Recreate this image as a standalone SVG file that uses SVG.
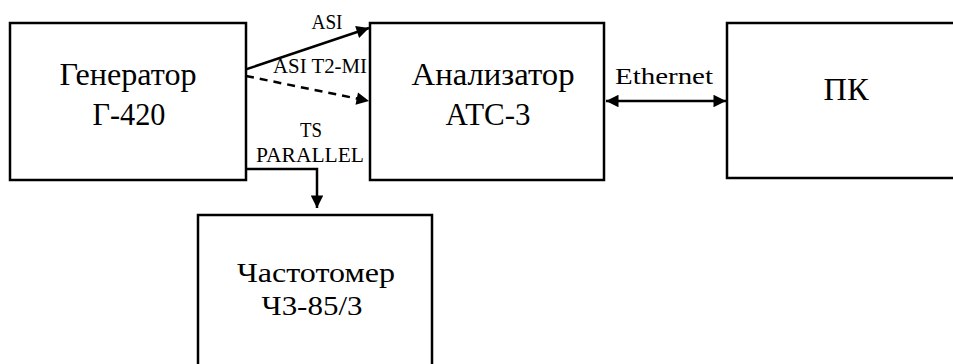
<svg xmlns="http://www.w3.org/2000/svg" width="953" height="364" viewBox="0 0 953 364">
<defs>
<style>
.box{fill:#fff;stroke:#000;stroke-width:2.5}
.t{font-family:"Times New Roman","Liberation Serif","DejaVu Serif",serif;fill:#000;text-anchor:middle}
.big{font-size:31px}
.mid{font-size:28px}
.sm{font-size:21px}
.ln{stroke:#000;stroke-width:2.5;fill:none}
</style>
<marker id="ah" viewBox="0 0 10 10" refX="10" refY="5" markerWidth="6" markerHeight="5" markerUnits="strokeWidth" orient="auto-start-reverse">
<path d="M0,0 L10,5 L0,10 z" fill="#000"/>
</marker>
</defs>
<rect width="953" height="364" fill="#fff"/>
<g id="connectors">
<line class="ln" x1="238" y1="72" x2="369" y2="28" marker-end="url(#ah)"/>
<line class="ln" x1="246" y1="76" x2="369" y2="101" stroke-dasharray="8,6" marker-end="url(#ah)"/>
<polyline class="ln" points="246,169 317,169 317,208" marker-end="url(#ah)"/>
<line class="ln" x1="606" y1="101" x2="726" y2="101" marker-start="url(#ah)" marker-end="url(#ah)"/>
<text class="t sm" x="327" y="29" textLength="31" lengthAdjust="spacingAndGlyphs">ASI</text>
<text class="t sm" x="320" y="73" textLength="94" lengthAdjust="spacingAndGlyphs">ASI T2-MI</text>
<text class="t sm" x="311" y="137" textLength="22" lengthAdjust="spacingAndGlyphs">TS</text>
<text class="t sm" x="310" y="162" textLength="108" lengthAdjust="spacingAndGlyphs">PARALLEL</text>
<text class="t" x="664" y="84" font-size="24" textLength="98" lengthAdjust="spacingAndGlyphs">Ethernet</text>
</g>
<g id="generator">
<rect class="box" x="10" y="23" width="236" height="157"/>
<text class="t big" x="128" y="85" textLength="137" lengthAdjust="spacingAndGlyphs">Генератор</text>
<text class="t big" x="129" y="125" textLength="73" lengthAdjust="spacingAndGlyphs">Г-420</text>
</g>
<g id="analyzer">
<rect class="box" x="370" y="23" width="234" height="157"/>
<text class="t big" x="493" y="85" textLength="163" lengthAdjust="spacingAndGlyphs">Анализатор</text>
<text class="t big" x="488" y="125" textLength="85" lengthAdjust="spacingAndGlyphs">АТС-3</text>
</g>
<g id="pc">
<rect class="box" x="727" y="23" width="240" height="155"/>
<text class="t big" x="846" y="100" textLength="45" lengthAdjust="spacingAndGlyphs">ПК</text>
</g>
<g id="counter">
<rect class="box" x="198" y="215" width="234" height="170"/>
<text class="t mid" x="316" y="282" textLength="158" lengthAdjust="spacingAndGlyphs">Частотомер</text>
<text class="t mid" x="312" y="315" textLength="101" lengthAdjust="spacingAndGlyphs">Ч3-85/3</text>
</g>
</svg>
